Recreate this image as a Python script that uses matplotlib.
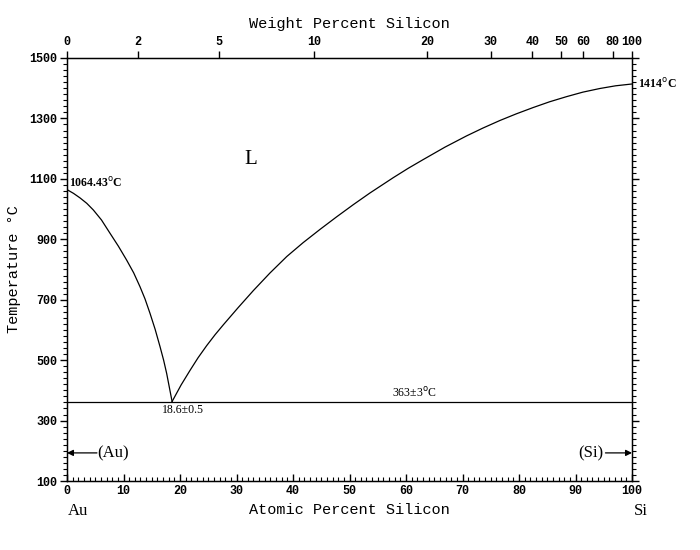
import numpy as np
import matplotlib
matplotlib.use("Agg")
import matplotlib.pyplot as plt
from matplotlib.ticker import MultipleLocator, FixedLocator

# liquidus, Au side (at.% Si, deg C)
liq_au_x = [0.0, 1.15, 2.3, 3.5, 4.66, 6.1, 7.61, 9.1, 10.56, 11.8, 12.92,
            13.8, 14.69, 15.6, 16.46, 17.1, 17.64, 18.6]
liq_au_t = [1064.43, 1052, 1037, 1019, 997, 964, 920, 877, 831, 789, 743,
            703, 655, 602, 545, 500, 456, 363]
# liquidus, Si side
liq_si_x = [18.6, 20.2, 21.77, 23.2, 24.72, 26.2, 27.67, 30.3, 32.97, 35.9,
            38.9, 41.8, 44.8, 47.7, 50.7, 53.6, 57.75, 60.4, 63.06, 66.9,
            70.7, 73.6, 76.6, 79.5, 82.5, 85.4, 88.4, 91.3, 94.3, 97.1, 100.0]
liq_si_t = [363, 418, 466, 508, 548, 584, 617, 674, 730, 788,
            843, 889, 933, 974, 1015, 1053, 1104, 1135, 1164, 1205,
            1242, 1268, 1293, 1315, 1336, 1355, 1372, 1387, 1399, 1408, 1414]
eut_x = [0, 100]
eut_t = [363, 363]

wt_ticks = [0, 2, 5, 10, 20, 30, 40, 50, 60, 80, 100]
M_AU, M_SI = 196.967, 28.0855


def wt2at(w):
    w = np.asarray(w, dtype=float)
    nsi = w / M_SI
    nau = (100 - w) / M_AU
    return 100 * nsi / (nsi + nau)


mono = "Liberation Mono"
serif = "Liberation Serif"

fig = plt.figure(figsize=(7, 5.5), dpi=100)
ax = fig.add_axes([67 / 700, 1 - 481 / 550, 565 / 700, 423 / 550])

ax.plot(liq_au_x, liq_au_t, color="black", lw=0.9, solid_joinstyle="round")
ax.plot(liq_si_x, liq_si_t, color="black", lw=0.9, solid_joinstyle="round")
ax.plot(eut_x, eut_t, color="black", lw=0.9)

ax.set_xlim(0, 100)
ax.set_ylim(100, 1500)
for s in ax.spines.values():
    s.set_linewidth(1.0)

ax.xaxis.set_major_locator(MultipleLocator(10))
ax.xaxis.set_minor_locator(MultipleLocator(1))
ax.yaxis.set_major_locator(MultipleLocator(200, offset=100))
ax.yaxis.set_minor_locator(MultipleLocator(20))
ax.tick_params(axis="x", which="both", direction="in", top=True, bottom=True,
               labelsize=8.5, pad=3)
ax.tick_params(axis="x", which="major", length=5, width=1)
ax.tick_params(axis="x", which="minor", length=3, width=0.8)
ax.tick_params(axis="y", which="both", direction="out", left=True, right=True,
               labelsize=8.5, pad=2)
ax.tick_params(axis="y", which="major", length=5, width=1)
ax.tick_params(axis="y", which="minor", length=3, width=0.8)
for lab in ax.get_xticklabels() + ax.get_yticklabels():
    lab.set_family(mono)
    lab.set_fontweight("bold")

# weight percent on top
top = ax.twiny()
top.set_xlim(0, 100)
top.xaxis.set_major_locator(FixedLocator(wt2at(wt_ticks)))
top.set_xticklabels([str(w) for w in wt_ticks])
top.xaxis.set_minor_locator(FixedLocator([]))
top.tick_params(axis="x", direction="out", length=5, width=1, labelsize=8.5, pad=2)
for lab in top.get_xticklabels():
    lab.set_family(mono)
    lab.set_fontweight("bold")
top.set_xlabel("Weight Percent Silicon", family=mono, fontsize=11, labelpad=6)

ax.set_xlabel("Atomic Percent Silicon", family=mono, fontsize=11, labelpad=4)
ax.set_ylabel("Temperature \u00b0C", family=mono, fontsize=11, labelpad=6)

ax.text(2, 28, "Au", family=serif, fontsize=12, ha="center", va="top",
        clip_on=False)
ax.text(101.5, 28, "Si", family=serif, fontsize=12, ha="center", va="top",
        clip_on=False)

ax.text(32.5, 1163, "L", family=serif, fontsize=15, ha="center", va="center")
ax.text(0.3, 1062, "1064.43$^\\mathrm{o}$C", family=serif, fontsize=8.5,
        fontweight="bold", ha="left", va="bottom")
ax.text(101.0, 1414, "1414$^\\mathrm{o}$C", family=serif, fontsize=8.5,
        fontweight="bold", ha="left", va="center", clip_on=False)
ax.text(20.5, 355, "18.6\u00b10.5", family=serif, fontsize=8.5,
        ha="center", va="top")
ax.text(61.5, 367, "363\u00b13$^\\mathrm{o}$C", family=serif, fontsize=8.5,
        ha="center", va="bottom")

ax.annotate("", xy=(0, 193), xytext=(5.3, 193),
            arrowprops=dict(arrowstyle="-|>", color="black", lw=0.9,
                            mutation_scale=9, shrinkA=0, shrinkB=0))
ax.text(5.3, 193, "(Au)", family=serif, fontsize=12, ha="left", va="center")
ax.annotate("", xy=(100, 193), xytext=(95.3, 193),
            arrowprops=dict(arrowstyle="-|>", color="black", lw=0.9,
                            mutation_scale=9, shrinkA=0, shrinkB=0))
ax.text(95.0, 193, "(Si)", family=serif, fontsize=12, ha="right", va="center")

fig.savefig("out.png", dpi=100)
